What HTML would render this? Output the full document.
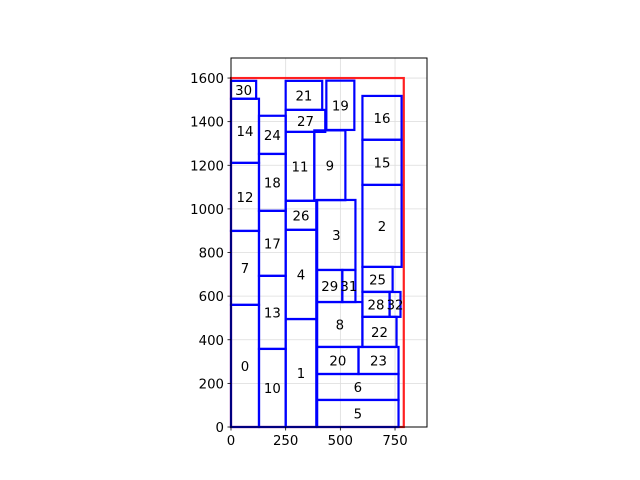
<!DOCTYPE html>
<html><head><meta charset="utf-8"><style>
body{margin:0;background:#fff;}
svg{display:block;font-family:"DejaVu Sans","Liberation Sans",sans-serif;}
</style></head><body>
<svg id="chart" width="640" height="480" viewBox="0 0 640 480">
<rect x="0" y="0" width="640" height="480" fill="#fff"/>
<g id="grid"></g>
<g id="rects"></g>
<rect x="231" y="58" width="196" height="369" fill="none" stroke="#000" stroke-width="1"/>
<g id="ticks"></g>
</svg>
<script>
const xTicks=[0,250,500,750];
const yTicks=[0,200,400,600,800,1000,1200,1400,1600];
const binW=790, binH=1600;
const ids=[0,7,12,14,30,10,13,17,18,24,1,4,26,11,27,21,19,9,3,29,31,8,20,23,6,5,22,28,32,25,2,15,16];
const rx=[0,0,0,0,0,128,128,128,128,128,250,250,250,250,250,250,436,381,394,394,509,394,394,583,394,394,601,601,725,601,601,601,601];
const ry=[0,560,899,1211,1505,0,358,693,991,1252,0,495,904,1037,1353,1454,1362,1040,720,573,573,367,243,243,124,0,367,505,505,620,734,1110,1317];
const rw=[128,128,128,128,115,122,122,122,122,122,140,140,140,131,181,167,128,142,175,115,60,207,189,183,372,372,156,124,50,138,179,179,179];
const rh=[560,339,312,294,82,358,335,298,261,175,495,409,133,316,101,133,226,320,321,147,147,206,124,124,119,124,138,114,114,114,376,207,201];
const X0=231,Y0=427,KX=0.2187,KY=0.2181;
function sx(v){return X0+v*KX;}
function sy(v){return Y0-v*KY;}
const NS="http://www.w3.org/2000/svg";
function mk(t,a,p){const e=document.createElementNS(NS,t);for(const k in a)e.setAttribute(k,a[k]);p.appendChild(e);return e;}
const grid=document.getElementById('grid'),ticks=document.getElementById('ticks'),rg=document.getElementById('rects');
xTicks.forEach(v=>{
  const g=mk('line',{x1:sx(v),x2:sx(v),y1:58,y2:427,stroke:'#dcdcdc','stroke-width':0.8},grid);
  
  
  const t=mk('line',{x1:sx(v),x2:sx(v),y1:427,y2:430.5,stroke:'#000','stroke-width':0.8},ticks);
  
  
  const l=mk('text',{x:sx(v),y:445,'font-size':13.3,'text-anchor':'middle',fill:'#000'},ticks);
  l.textContent=v;
  
  
});
yTicks.forEach(v=>{
  const g=mk('line',{x1:231,x2:427,y1:sy(v),y2:sy(v),stroke:'#dcdcdc','stroke-width':0.8},grid);
  
  
  const t=mk('line',{x1:227.5,x2:231,y1:sy(v),y2:sy(v),stroke:'#000','stroke-width':0.8},ticks);
  
  
  const l=mk('text',{x:224,y:sy(v)+5,'font-size':13.3,'text-anchor':'end',fill:'#000'},ticks);
  l.textContent=v;
  
  
});
const bin=mk('rect',{x:sx(0),y:sy(binH),width:binW*KX,height:binH*KY,fill:'none',stroke:'#ff2020','stroke-width':2.2},rg);


ids.forEach((id,i)=>{
  const r=mk('rect',{x:sx(rx[i]),y:sy(ry[i]+rh[i]),width:rw[i]*KX,height:rh[i]*KY,fill:'none',stroke:'#0000ff','stroke-width':2.2},rg);
  
  
  const t=mk('text',{x:sx(rx[i]+rw[i]/2),y:sy(ry[i]+rh[i]/2)+5,'font-size':13.3,'text-anchor':'middle',fill:'#000'},rg);
  t.textContent=id;
  
  
});
</script>
</body></html>
